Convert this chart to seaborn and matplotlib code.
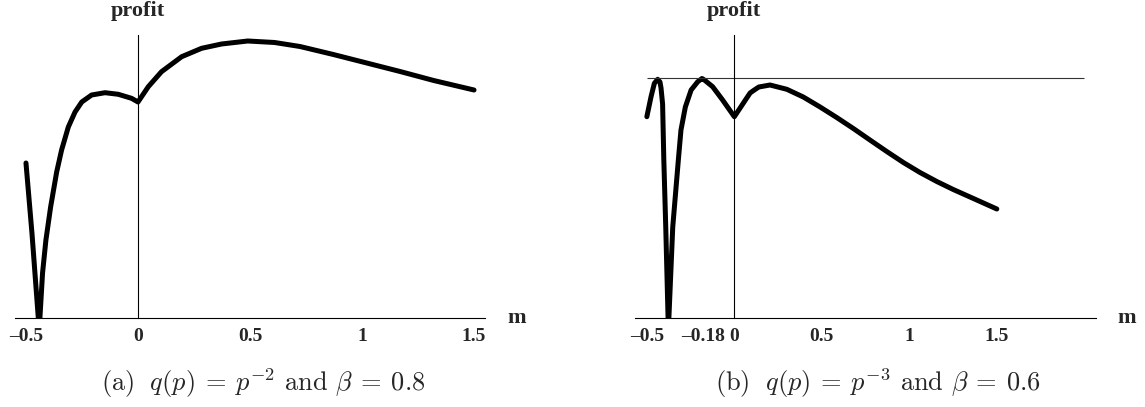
import matplotlib
matplotlib.use('Agg')
import matplotlib.pyplot as plt
import seaborn as sns

# panel (a): q(p) = p^-2, beta = 0.8
m_a = [-0.5, -0.473, -0.441, -0.426, -0.411, -0.39, -0.363, -0.341, -0.311,
       -0.281, -0.251, -0.207, -0.147, -0.088, -0.029, 0.0, 0.046, 0.105,
       0.195, 0.284, 0.373, 0.49, 0.61, 0.723, 0.872, 1.021, 1.17, 1.32, 1.5]
profit_a = [155, 84, -12, 45, 78, 111, 146, 168, 191,
            206, 216, 223, 225.3, 223.7, 219.7, 216, 231.3, 246.3,
            261.3, 269.7, 274, 277, 275.5, 271.5, 263.5, 255, 246.5, 237.5, 228]

# panel (b): q(p) = p^-3, beta = 0.6
m_b = [-0.5, -0.476, -0.457, -0.438, -0.425, -0.419, -0.41, -0.403, -0.392,
       -0.377, -0.352, -0.32, -0.305, -0.28, -0.247, -0.209, -0.185, -0.171,
       -0.124, -0.067, 0.0, 0.033, 0.067, 0.09, 0.114, 0.14, 0.204, 0.3,
       0.394, 0.49, 0.585, 0.68, 0.775, 0.871, 0.966, 1.061, 1.157, 1.251,
       1.347, 1.5]
profit_b = [201.3, 221.3, 234.7, 238.7, 236, 230, 214, 158, 91,
            -12, 91, 158, 188, 211, 228, 236.3, 239.5, 238,
            231.3, 218, 201.3, 210, 219, 225, 228, 231, 233, 228.7,
            221, 211, 200.5, 189.5, 178, 166.5, 155.5, 145.5, 136.5, 128.5,
            121, 109]
level_b = 240.5

ticks_a = [-0.5, 0, 0.5, 1, 1.5]
ticklabels_a = ['\u20130.5', '0', '0.5', '1', '1.5']
ticks_b = [-0.5, -0.18, 0, 0.5, 1, 1.5]
ticklabels_b = ['\u20130.5', '\u20130.18', '0', '0.5', '1', '1.5']

captions = [r'(a) $\;q(p)\:=\:p^{-2}$ and $\beta\:=\:0.8$',
            r'(b) $\;q(p)\:=\:p^{-3}$ and $\beta\:=\:0.6$']

sns.set_style('white')
plt.rcParams['font.family'] = ['Liberation Serif', 'DejaVu Serif']
plt.rcParams['mathtext.fontset'] = 'cm'

W, H = 1145, 407
fig = plt.figure(figsize=(W / 100, H / 100), dpi=100)


def px_axes(x0, x1, ytop, ybot):
    return fig.add_axes([x0 / W, 1 - ybot / H, (x1 - x0) / W, (ybot - ytop) / H])


ax_a = px_axes(15, 485, 35, 318)
ax_b = px_axes(635.3, 1095.5, 35, 318)

sns.lineplot(x=m_a, y=profit_a, sort=False, estimator=None, color='black',
             lw=3.6, solid_capstyle='round', solid_joinstyle='round', ax=ax_a)
sns.lineplot(x=m_b, y=profit_b, sort=False, estimator=None, color='black',
             lw=3.6, solid_capstyle='round', solid_joinstyle='round', ax=ax_b)
ax_b.hlines(level_b, -0.5, 2.0, color='#333333', lw=0.8)

ax_a.set_xlim(-0.549, 1.549)
ax_b.set_xlim(-0.566, 2.064)

for ax, ticks, labels in [(ax_a, ticks_a, ticklabels_a), (ax_b, ticks_b, ticklabels_b)]:
    ax.set_ylim(0, 283)
    ax.set_xticks(ticks)
    ax.set_xticklabels(labels, fontweight='bold', fontsize=14)
    ax.set_yticks([])
    ax.tick_params(axis='x', direction='inout', length=7, width=0.8, pad=4)
    for s in ['top', 'right']:
        ax.spines[s].set_visible(False)
    ax.spines['left'].set_position(('data', 0))
    ax.spines['left'].set_linewidth(0.8)
    ax.spines['bottom'].set_linewidth(0.8)
    ax.spines['left'].set_color('black')
    ax.spines['bottom'].set_color('black')
    ax.set_xlabel('')
    ax.set_ylabel('')
    ax.patch.set_alpha(0)
    ax.annotate('profit', xy=(0, 1), xycoords=('data', 'axes fraction'),
                xytext=(0, 17), textcoords='offset points', ha='center',
                va='center', fontsize=16, fontweight='bold')

ax_a.text(1.692, 0, 'm', ha='center', va='center', fontsize=16,
          fontweight='bold', clip_on=False)
ax_b.text(2.244, 0, 'm', ha='center', va='center', fontsize=16,
          fontweight='bold', clip_on=False)

fig.text(263 / W, 1 - 383 / H, captions[0], ha='center', va='center',
         fontsize=19, family='cmr10')
fig.text(878 / W, 1 - 383 / H, captions[1], ha='center', va='center',
         fontsize=19, family='cmr10')

fig.savefig('out.png', dpi=100)
